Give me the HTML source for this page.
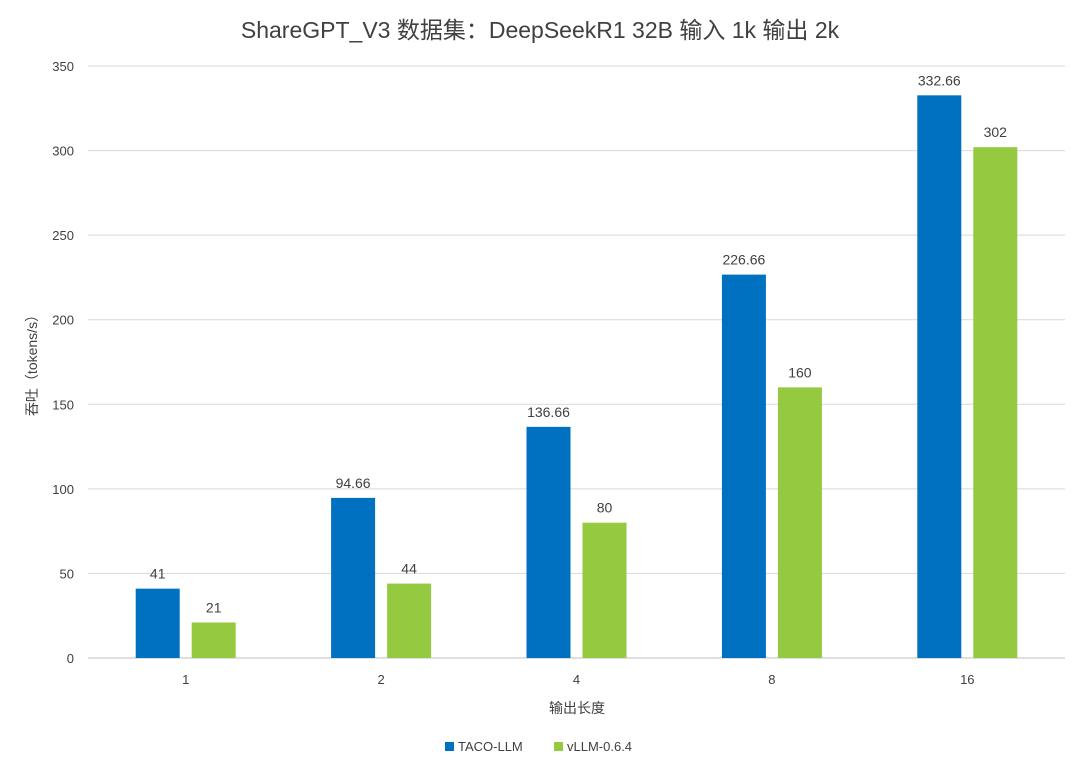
<!DOCTYPE html>
<html><head><meta charset="utf-8"><style>
body{margin:0;background:#fff;}
svg text{font-family:"Liberation Sans","Noto Sans CJK SC",sans-serif;fill:#404040;}
</style></head><body>
<svg id="chart" width="1080" height="770">
<text x="540" y="38" text-anchor="middle" font-size="23">ShareGPT_V3 数据集：DeepSeekR1 32B 输入 1k 输出 2k</text>
<g id="grid"></g><g id="bars"></g><g id="labels"></g>
<text transform="translate(37,362) rotate(-90)" text-anchor="middle" font-size="14">吞吐（tokens/s）</text>
<text x="577" y="713" text-anchor="middle" font-size="14">输出长度</text>
<rect x="445" y="742" width="9" height="9" fill="#0070c0"/>
<text x="458" y="751" font-size="13">TACO-LLM</text>
<rect x="554" y="742" width="9" height="9" fill="#94c940"/>
<text x="567" y="751" font-size="13">vLLM-0.6.4</text>
</svg>
<script>
const categories=["1","2","4","8","16"];
const tacoValues=[41,94.66,136.66,226.66,332.66];
const vllmValues=[21,44,80,160,302];
const yTicks=[0,50,100,150,200,250,300,350];
const ns="http://www.w3.org/2000/svg";
const x0=88,x1=1065,y0=658,y1=66,yMax=350;
const band=(x1-x0)/categories.length;
const yScale=v=>y0-(v/yMax)*(y0-y1);
const xCenter=i=>x0+band*(i+0.5);
function mk(tag,attrs,parent){const e=document.createElementNS(ns,tag);for(const k in attrs)e.setAttribute(k,attrs[k]);document.getElementById(parent).appendChild(e);return e;}
yTicks.forEach(t=>{
  const l=mk("line",{x1:x0,x2:x1,y1:yScale(t),y2:yScale(t),stroke:t===0?"#bfbfbf":"#d9d9d9","stroke-width":1},"grid");
  
  
  const tx=mk("text",{x:74,y:yScale(t)+5,"text-anchor":"end","font-size":13},"labels");
  tx.textContent=t;
  
  
});
const bw=44,gap=12;
categories.forEach((c,i)=>{
  const cx=xCenter(i);
  [[tacoValues[i],"#0070c0",cx-gap/2-bw,"taco"],[vllmValues[i],"#94c940",cx+gap/2,"vllm"]].forEach(([v,col,x,s])=>{
    const r=mk("rect",{x:x,y:yScale(v),width:bw,height:y0-yScale(v),fill:col},"bars");
    
    
    const t=mk("text",{x:x+bw/2,y:yScale(v)-10,"text-anchor":"middle","font-size":14},"labels");
    t.textContent=v;
    
    
  });
  const xt=mk("text",{x:cx,y:684,"text-anchor":"middle","font-size":13},"labels");
  xt.textContent=c;
  
  
});
</script>
</body></html>
